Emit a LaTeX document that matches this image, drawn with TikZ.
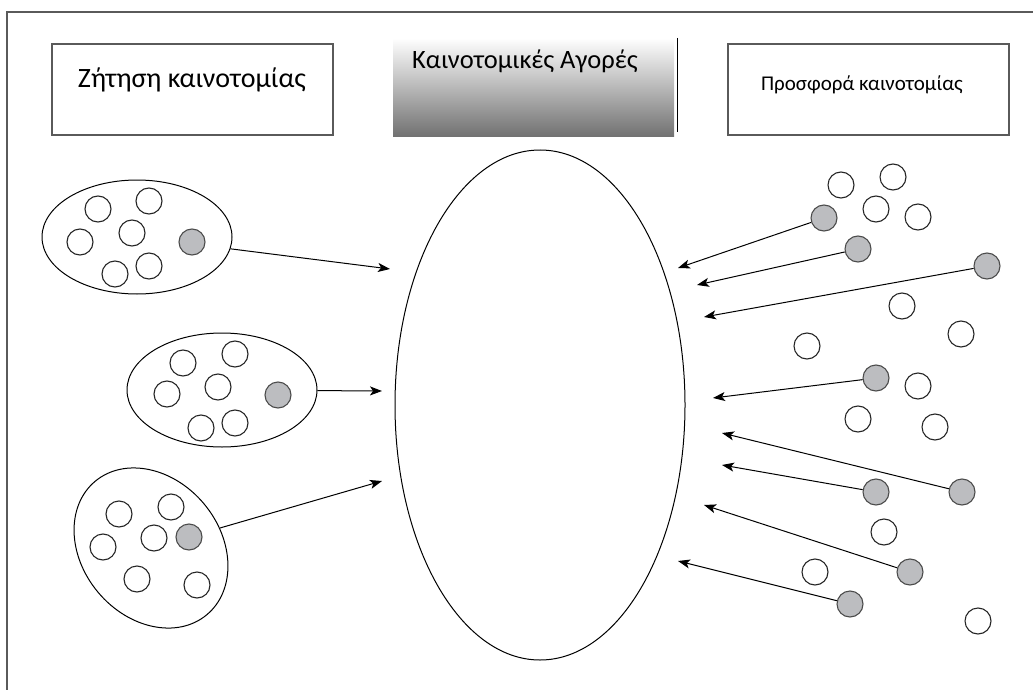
\documentclass[tikz,border=0pt]{standalone}
\usepackage{fontspec}
\setmainfont{Carlito}
\usetikzlibrary{arrows.meta, positioning, shapes.geometric}
\definecolor{dotgray}{HTML}{BCBDC0}
\definecolor{framegray}{HTML}{5A5A5A}

\tikzset{
  dot/.style={circle, draw=black!85, line width=1.1pt, minimum size=26pt, inner sep=0pt},
  hotdot/.style={dot, fill=dotgray, draw=black!70},
  group/.style={ellipse, draw, line width=1pt, minimum width=190pt, minimum height=114pt, inner sep=0pt},
  box/.style={draw=framegray, line width=1.3pt, minimum width=281pt, minimum height=91pt, inner sep=0pt},
  link/.style={-{Stealth[length=12pt, width=9pt, inset=3pt]}, line width=1pt}
}

\begin{document}
\begin{tikzpicture}[x=1pt, y=-1pt]
    \useasboundingbox (0,0) rectangle (1033,690);
    \draw[framegray, line width=1.6pt] (7,690) -- (7,12) -- (1033,12);

    % top boxes
    \node[box] (demand) at (192.5,89.5) {};
    \node[anchor=base, font=\fontsize{28}{32}\selectfont] (demandtxt) at (192,88) {Ζήτηση καινοτομίας};
    \node[minimum width=281pt, minimum height=99pt, inner sep=0pt,
          top color=white, middle color=black!18, bottom color=black!56] (markets) at (533.5,87.5) {};
    \draw[line width=1.4pt] ([xshift=3pt]markets.north east) -- ([xshift=3pt, yshift=5pt]markets.south east);
    \node[anchor=base, font=\fontsize{26.5}{30}\selectfont] (marketstxt) at (525,69) {Καινοτομικές Αγορές};
    \node[box] (supply) at (868.5,89.5) {};
    \node[anchor=base, font=\fontsize{21}{25}\selectfont] (supplytxt) at (862,91) {Προσφορά καινοτομίας};

    % the market
    \node[ellipse, draw, line width=1pt, minimum width=290pt, minimum height=510pt, inner sep=0pt] (pool) at (540,405) {};

    % demand side
    \node[group] (g1) at (137,237) {};
    \node[group] (g2) at (222,390) {};
    \node[group, rotate=-50, minimum width=174pt, minimum height=138pt] (g3) at (151,548) {};

    \foreach \x/\y [count=\i] in {98/209, 149/201, 80/242, 132/233, 115/274, 149/266}
        \node[dot] (a\i) at (\x,\y) {};
    \node[hotdot] (ah) at (192,242) {};
    \foreach \x/\y [count=\i] in {183/363, 235/354, 167/394, 218/387, 201/428, 235/423}
        \node[dot] (b\i) at (\x,\y) {};
    \node[hotdot] (bh) at (278,395) {};
    \foreach \x/\y [count=\i] in {119/514, 171/507, 103/547, 154/538, 137/579, 197/585}
        \node[dot] (c\i) at (\x,\y) {};
    \node[hotdot] (ch) at (189,537) {};

    \coordinate (t1) at (390,269);
    \coordinate (t2) at (382,391);
    \coordinate (t3) at (382,481);
    \draw[link] (g1) -- (t1);
    \draw[link] (g2) -- (t2);
    \draw[link] (g3) -- (t3);

    % supply side
    \foreach \x/\y [count=\i] in {841/185, 893/177, 876/209, 918/217, 902/306, 961/334, 807/346,
                                  918/386, 858/419, 935/427, 884/532, 815/572, 978/621}
        \node[dot] (w\i) at (\x,\y) {};

    \foreach \x/\y/\u/\v [count=\i] in {824/218/678/268, 858/249/697/285, 987/266/704/317,
                                        876/378/713/398, 962/492/722/433, 876/492/722/465,
                                        910/572/704/505, 850/604/678/561} {
        \node[hotdot] (s\i) at (\x,\y) {};
        \coordinate (r\i) at (\u,\v);
        \draw[link] (s\i) -- (r\i);
    }
\end{tikzpicture}
\end{document}
